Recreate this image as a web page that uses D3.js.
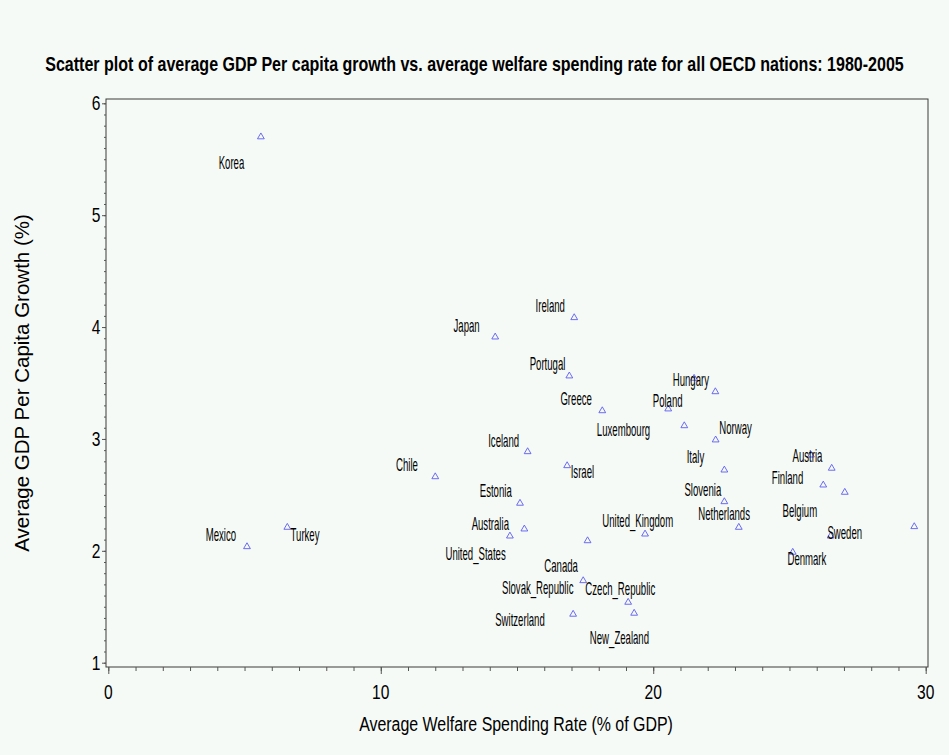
<!DOCTYPE html>
<html><head><meta charset="utf-8">
<script src="https://cdn.jsdelivr.net/npm/d3@7"></script>
<style>
html,body{margin:0;padding:0;background:#f6faf6;}
svg{display:block;}
text{font-family:"Liberation Sans",Arial,sans-serif;fill:#000;}
</style></head>
<body>
<svg id="chart" width="949" height="755"></svg>
<script>
// ---- data ----
const titleText = "Scatter plot of average GDP Per capita growth vs. average welfare spending rate for all OECD nations: 1980-2005";
const xAxisTitle = "Average Welfare Spending Rate (% of GDP)";
const yAxisTitle = "Average GDP Per Capita Growth (%)";
const xTickValues = [0, 10, 20, 30];
const yTickValues = [1, 2, 3, 4, 5, 6];

// plotted points (welfare spending %, GDP growth %)
const pointWelfare = [5.60, 5.09, 6.57, 14.20, 17.10, 16.92, 18.13, 15.39, 16.84, 12.00,
  21.50, 22.28, 20.55, 21.14, 22.29, 22.61, 22.61, 23.14, 19.70, 15.11,
  15.27, 14.74, 17.59, 17.43, 19.08, 19.30, 17.06, 25.79, 26.55, 26.24,
  27.03, 29.58, 26.51, 25.12];
const pointGrowth = [5.70, 2.037, 2.21, 3.911, 4.084, 3.563, 3.252, 2.886, 2.761, 2.662,
  3.542, 3.422, 3.268, 3.118, 2.991, 2.722, 2.439, 2.210, 2.150, 2.425,
  2.195, 2.132, 2.090, 1.733, 1.540, 1.442, 1.433, 2.856, 2.738, 2.588,
  2.523, 2.216, 2.132, 1.987];

// country labels and their anchors in data units
const labelNames = ["Korea","Japan","Ireland","Portugal","Greece","Iceland","Israel","Luxembourg",
  "Hungary","Poland","Norway","Italy","Slovenia","Netherlands","United_Kingdom","Estonia",
  "Australia","United_States","Canada","Slovak_Republic","Czech_Republic","Switzerland",
  "New_Zealand","Austria","Finland","Belgium","Sweden","Denmark","Mexico","Turkey","Chile"];
const labelWelfare = [4.52,13.15,16.22,16.12,17.17,14.51,17.40,18.91,
  21.38,20.53,23.02,21.55,21.82,22.60,19.43,14.22,
  14.02,13.48,16.62,15.76,18.79,15.11,
  18.76,25.66,24.93,25.38,27.03,25.64,4.13,7.22,10.96];
const labelGrowth = [5.413,3.956,4.137,3.612,3.299,2.932,2.651,3.022,
  3.473,3.285,3.044,2.785,2.490,2.275,2.213,2.481,
  2.186,1.918,1.811,1.614,1.601,1.324,
  1.167,2.794,2.593,2.302,2.106,1.869,2.092,2.092,2.713];

// ---- layout ----
const W = 949, H = 755;
const frame = {left: 106, right: 928, top: 99, bottom: 667};
const svg = d3.select("#chart");
svg.append("rect").attr("width", W).attr("height", H).attr("fill", "#f6faf6");

const x = d3.scaleLinear().domain([0, 30]).range([108.3, 925.7]);
const y = d3.scaleLinear().domain([1, 6]).range([662.7, 103.3]);

// frame
svg.append("rect")
  .attr("x", frame.left).attr("y", frame.top)
  .attr("width", frame.right - frame.left).attr("height", frame.bottom - frame.top)
  .attr("fill", "none").attr("stroke", "#3a3a3a").attr("stroke-width", 1);

// x axis ticks
const xMinor = d3.range(0, 31, 1);
const xAx = svg.append("g").attr("transform", `translate(0,${frame.bottom})`);
xAx.call(d3.axisBottom(x).tickValues(xMinor).tickSize(4).tickSizeOuter(0).tickFormat(""));
xAx.append("g").call(d3.axisBottom(x).tickValues(xTickValues).tickSize(7).tickSizeOuter(0).tickFormat(""));
xAx.selectAll(".domain").remove();
xAx.selectAll("line").attr("stroke", "#555");
svg.append("g").selectAll("text").data(xTickValues).join("text")
  .attr("transform", d => `translate(${x(d)},698.5) scale(0.78,1)`)
  .attr("text-anchor", "middle").style("font-size", "20px").text(d => d);

// y axis ticks
const yMinor = d3.range(10, 61, 1).map(v => v / 10);
const yAx = svg.append("g").attr("transform", `translate(${frame.left},0)`);
yAx.call(d3.axisLeft(y).tickValues(yMinor).tickSize(2).tickSizeOuter(0).tickFormat(""));
yAx.append("g").call(d3.axisLeft(y).tickValues(yTickValues).tickSize(4).tickSizeOuter(0).tickFormat(""));
yAx.selectAll(".domain").remove();
yAx.selectAll("line").attr("stroke", "#555");
svg.append("g").selectAll("text").data(yTickValues).join("text")
  .attr("transform", d => `translate(100.5,${y(d) + 7}) scale(0.78,1)`)
  .attr("text-anchor", "end").style("font-size", "20px").text(d => d);

// title, fitted to its measured span
const title = svg.append("text").style("font-size", "19.5px").style("font-weight", "bold")
  .attr("text-anchor", "middle").text(titleText);
const tw = title.node().getComputedTextLength();
title.attr("transform", `translate(474.5,70.5) scale(${859 / tw},1)`);

// x axis title
const xt = svg.append("text").style("font-size", "21px").attr("text-anchor", "middle").text(xAxisTitle);
const xtw = xt.node().getComputedTextLength();
xt.attr("transform", `translate(516,731) scale(${314 / xtw},1)`);

// y axis title
svg.append("text").style("font-size", "20.5px").attr("text-anchor", "middle")
  .attr("transform", `translate(29,383) rotate(-90)`).text(yAxisTitle);

// points
const tri = d3.symbol().type(d3.symbolTriangle).size(20);
svg.append("g").selectAll("path").data(d3.range(pointWelfare.length)).join("path")
  .attr("d", tri)
  .attr("transform", i => `translate(${x(pointWelfare[i])},${y(pointGrowth[i])})`)
  .attr("fill", "none").attr("stroke", "#5b5bf0").attr("stroke-width", 0.9);

// labels
svg.append("g").selectAll("text").data(d3.range(labelNames.length)).join("text")
  .attr("transform", i => `translate(${x(labelWelfare[i])},${y(labelGrowth[i])}) scale(0.505,1)`)
  .attr("text-anchor", "middle").style("font-size", "19px")
  .text(i => labelNames[i]);
</script>
</body></html>
